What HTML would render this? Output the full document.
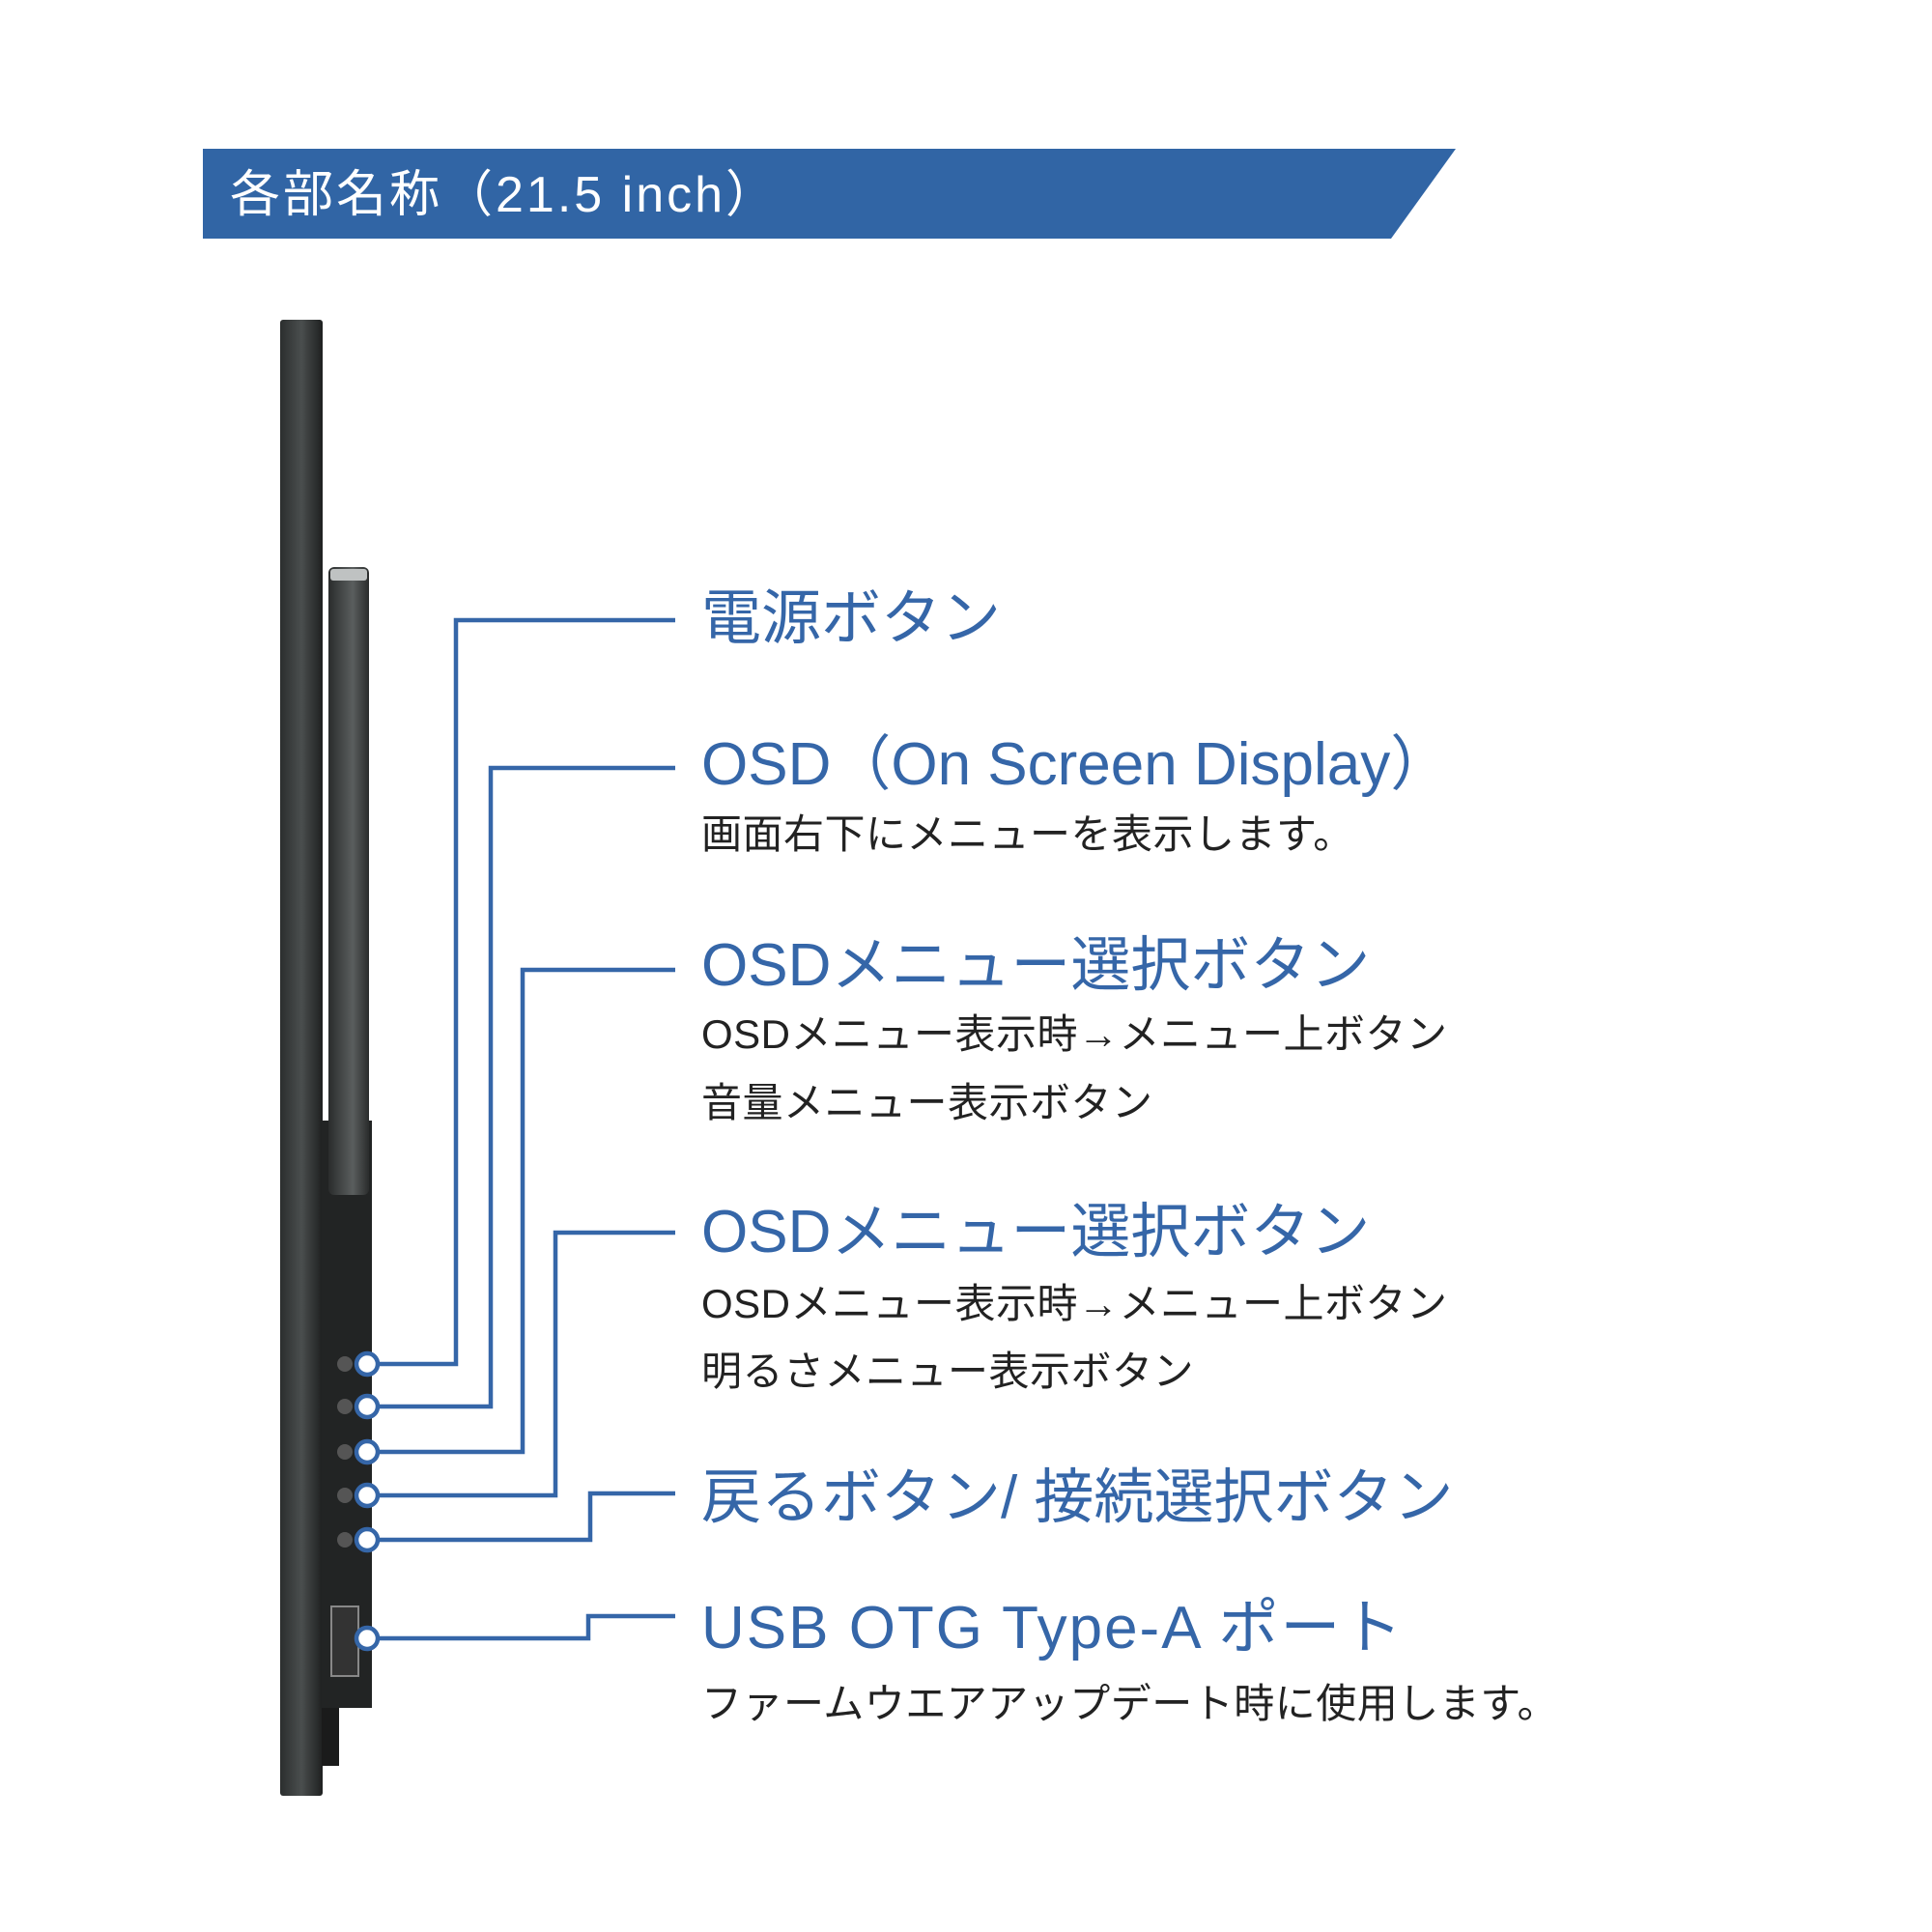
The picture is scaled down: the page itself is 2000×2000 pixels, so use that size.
<!DOCTYPE html>
<html><head><meta charset="utf-8">
<style>
body{margin:0;width:2000px;height:2000px;background:#fff;position:relative;overflow:hidden;font-family:"Liberation Sans","Noto Sans CJK JP",sans-serif;}
.t{position:absolute;left:726px;white-space:nowrap;line-height:1;}
.h{color:#3566a8;font-size:62px;}
.s{color:#222;font-size:42px;letter-spacing:0.5px;}
</style></head><body>
<svg width="2000" height="2000" style="position:absolute;left:0;top:0">
<defs>
<linearGradient id="g1" x1="0" x2="1"><stop offset="0" stop-color="#2b2e2e"/><stop offset="0.5" stop-color="#4a4e4e"/><stop offset="1" stop-color="#1e2020"/></linearGradient>
<linearGradient id="g2" x1="0" x2="1"><stop offset="0" stop-color="#2a2c2c"/><stop offset="0.6" stop-color="#5a5e5e"/><stop offset="1" stop-color="#2a2c2c"/></linearGradient>
</defs>
<polygon points="210,154 1507,154 1440,247 210,247" fill="#3165a5"/>
<!-- monitor -->
<rect x="290" y="331" width="44" height="1528" fill="url(#g1)" rx="3"/>
<rect x="333" y="1160" width="52" height="608" fill="#222424"/>
<rect x="333" y="1768" width="18" height="60" fill="#1a1b1b"/>
<rect x="340" y="587" width="42" height="650" fill="url(#g2)" rx="6"/>
<rect x="342" y="589" width="38" height="12" fill="#bfc2c2" rx="3"/>
<g fill="#555"><circle cx="357" cy="1412" r="8"/><circle cx="357" cy="1456" r="8"/><circle cx="357" cy="1503" r="8"/><circle cx="357" cy="1548" r="8"/><circle cx="357" cy="1594" r="8"/></g>
<rect x="343" y="1663" width="28" height="72" fill="#333" stroke="#888" stroke-width="2"/>
<!-- connectors -->
<g fill="none" stroke="#3566a8" stroke-width="4.5">
<polyline points="380,1412 472,1412 472,642 699,642"/>
<polyline points="380,1456 508,1456 508,795 699,795"/>
<polyline points="380,1503 541,1503 541,1004 699,1004"/>
<polyline points="380,1548 575,1548 575,1276 699,1276"/>
<polyline points="380,1594 611,1594 611,1546 699,1546"/>
<polyline points="380,1696 609,1696 609,1673 699,1673"/>
</g>
<g fill="#fff" stroke="#3566a8" stroke-width="4.5">
<circle cx="380" cy="1412" r="11"/><circle cx="380" cy="1456" r="11"/><circle cx="380" cy="1503" r="11"/><circle cx="380" cy="1548" r="11"/><circle cx="380" cy="1594" r="11"/><circle cx="380" cy="1696" r="11"/>
</g>
</svg>
<div class="t" style="left:238px;top:176px;color:#fff;font-size:52px;letter-spacing:3px;">各部名称（21.5 inch）</div>
<div class="t h" style="top:610px;">電源ボタン</div>
<div class="t h" style="top:761px;">OSD（On Screen Display）</div>
<div class="t s" style="top:843px;">画面右下にメニューを表示します。</div>
<div class="t h" style="top:969px;">OSDメニュー選択ボタン</div>
<div class="t s" style="top:1050px;">OSDメニュー表示時→メニュー上ボタン</div>
<div class="t s" style="top:1121px;">音量メニュー表示ボタン</div>
<div class="t h" style="top:1245px;">OSDメニュー選択ボタン</div>
<div class="t s" style="top:1329px;">OSDメニュー表示時→メニュー上ボタン</div>
<div class="t s" style="top:1399px;">明るさメニュー表示ボタン</div>
<div class="t h" style="top:1520px;">戻るボタン/ 接続選択ボタン</div>
<div class="t h" style="top:1655px;letter-spacing:2px;">USB OTG Type-A ポート</div>
<div class="t s" style="top:1743px;">ファームウエアアップデート時に使用します。</div>
</body></html>
